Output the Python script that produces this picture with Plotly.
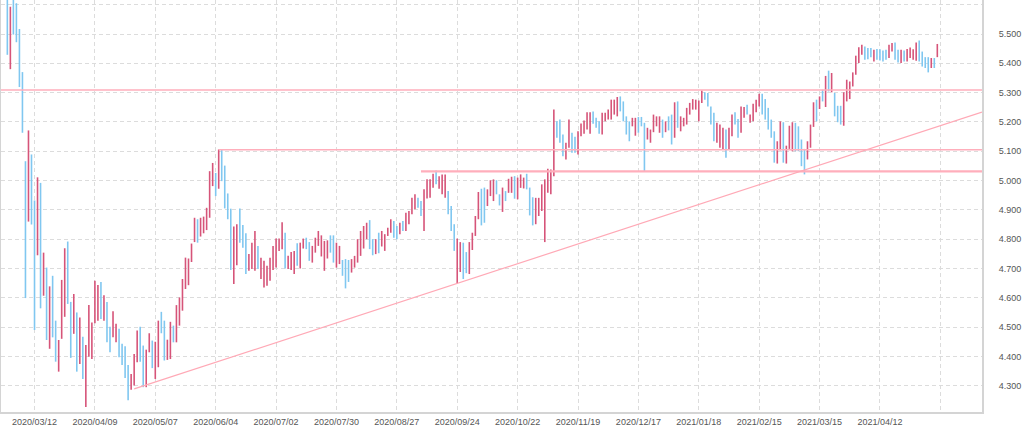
import pandas as pd
import plotly.graph_objects as go

# ---------------- data ----------------
start_date = "2020-02-28"
end_date = "2021-05-07"
closed_days = ["2020-12-25", "2021-01-01"]

highs = [
    5.66, 5.593, 5.64, 5.605, 5.517, 5.370, 5.066, 5.171, 5.089, 4.932,
    5.011, 4.992, 4.754, 4.703, 4.639, 4.675, 4.522, 4.456, 4.661, 4.769,
    4.792, 4.586, 4.613, 4.550, 4.533, 4.467, 4.439, 4.575, 4.516, 4.658,
    4.644, 4.654, 4.609, 4.586, 4.501, 4.554, 4.511, 4.494, 4.443, 4.435,
    4.371, 4.340, 4.408, 4.488, 4.501, 4.437, 4.423, 4.479, 4.454, 4.450,
    4.522, 4.552, 4.522, 4.457, 4.518, 4.505, 4.575, 4.601, 4.664, 4.737,
    4.734, 4.785, 4.873, 4.868, 4.873, 4.877, 4.907, 5.032, 5.060, 5.026,
    5.106, 5.106, 5.051, 4.956, 4.904, 4.843, 4.851, 4.905, 4.848, 4.820,
    4.749, 4.788, 4.828, 4.777, 4.737, 4.726, 4.709, 4.737, 4.777, 4.802,
    4.802, 4.858, 4.822, 4.743, 4.756, 4.760, 4.786, 4.788, 4.802, 4.805,
    4.790, 4.777, 4.805, 4.828, 4.813, 4.794, 4.796, 4.813, 4.813, 4.788,
    4.777, 4.729, 4.732, 4.729, 4.732, 4.743, 4.800, 4.828, 4.845, 4.856,
    4.865, 4.800, 4.800, 4.822, 4.828, 4.817, 4.839, 4.868, 4.862, 4.845,
    4.856, 4.862, 4.890, 4.896, 4.941, 4.953, 4.941, 4.930, 4.970, 5.004,
    5.004, 5.023, 5.034, 5.015, 5.021, 5.021, 4.964, 4.913, 4.851, 4.802,
    4.790, 4.788, 4.756, 4.790, 4.822, 4.879, 4.961, 4.972, 4.976, 4.970,
    5.001, 5.004, 5.001, 4.953, 4.976, 4.964, 5.006, 5.013, 5.015, 5.010,
    5.021, 5.010, 5.023, 4.976, 4.943, 4.941, 4.941, 4.987, 5.004, 5.040,
    5.038, 5.242, 5.202, 5.208, 5.157, 5.129, 5.208, 5.163, 5.149, 5.168,
    5.195, 5.205, 5.233, 5.233, 5.236, 5.214, 5.202, 5.231, 5.231, 5.242,
    5.276, 5.276, 5.285, 5.287, 5.270, 5.219, 5.202, 5.214, 5.214, 5.217,
    5.217, 5.197, 5.180, 5.174, 5.225, 5.219, 5.219, 5.208, 5.202, 5.219,
    5.225, 5.267, 5.270, 5.219, 5.214, 5.248, 5.265, 5.278, 5.276, 5.273,
    5.307, 5.301, 5.299, 5.253, 5.231, 5.197, 5.191, 5.180, 5.174, 5.180,
    5.225, 5.233, 5.210, 5.253, 5.251, 5.259, 5.225, 5.262, 5.276, 5.296,
    5.296, 5.278, 5.248, 5.208, 5.168, 5.134, 5.202, 5.199, 5.119, 5.187,
    5.199, 5.197, 5.185, 5.140, 5.108, 5.134, 5.191, 5.267, 5.276, 5.287,
    5.310, 5.357, 5.375, 5.367, 5.299, 5.255, 5.255, 5.301, 5.344, 5.338,
    5.369, 5.426, 5.455, 5.463, 5.457, 5.452, 5.452, 5.446, 5.449, 5.448,
    5.444, 5.446, 5.463, 5.469, 5.471, 5.446, 5.446, 5.444, 5.449, 5.454,
    5.448, 5.471, 5.478, 5.440, 5.421, 5.421, 5.418, 5.418, 5.466,
]

lows = [
    5.429, 5.380, 5.498, 5.472, 5.319, 5.163, 4.599, 4.860, 4.850, 4.490,
    4.745, 4.564, 4.607, 4.456, 4.426, 4.465, 4.382, 4.348, 4.460, 4.535,
    4.579, 4.395, 4.477, 4.348, 4.374, 4.323, 4.227, 4.399, 4.391, 4.513,
    4.522, 4.528, 4.522, 4.448, 4.414, 4.465, 4.448, 4.397, 4.371, 4.326,
    4.250, 4.286, 4.301, 4.380, 4.382, 4.295, 4.295, 4.414, 4.360, 4.323,
    4.363, 4.479, 4.386, 4.388, 4.391, 4.448, 4.448, 4.505, 4.556, 4.630,
    4.643, 4.722, 4.790, 4.788, 4.809, 4.820, 4.831, 4.873, 4.981, 4.947,
    4.972, 4.998, 4.905, 4.868, 4.695, 4.647, 4.711, 4.788, 4.771, 4.681,
    4.692, 4.698, 4.692, 4.698, 4.664, 4.635, 4.641, 4.658, 4.695, 4.703,
    4.760, 4.766, 4.700, 4.698, 4.695, 4.681, 4.709, 4.700, 4.768, 4.766,
    4.726, 4.720, 4.754, 4.777, 4.741, 4.692, 4.734, 4.754, 4.720, 4.703,
    4.715, 4.675, 4.632, 4.654, 4.686, 4.703, 4.720, 4.743, 4.768, 4.800,
    4.766, 4.745, 4.749, 4.752, 4.775, 4.760, 4.811, 4.822, 4.805, 4.800,
    4.817, 4.828, 4.828, 4.851, 4.885, 4.902, 4.907, 4.879, 4.828, 4.939,
    4.941, 4.975, 4.987, 4.972, 4.953, 4.941, 4.885, 4.828, 4.760, 4.650,
    4.688, 4.664, 4.684, 4.681, 4.763, 4.811, 4.868, 4.847, 4.856, 4.913,
    4.947, 4.930, 4.953, 4.915, 4.893, 4.930, 4.958, 4.958, 4.938, 4.936,
    4.975, 4.973, 4.970, 4.881, 4.847, 4.851, 4.879, 4.896, 4.790, 4.958,
    4.953, 5.015, 5.146, 5.129, 5.083, 5.072, 5.112, 5.095, 5.095, 5.089,
    5.151, 5.160, 5.174, 5.160, 5.194, 5.180, 5.160, 5.157, 5.202, 5.208,
    5.208, 5.225, 5.219, 5.236, 5.202, 5.157, 5.134, 5.185, 5.153, 5.163,
    5.185, 5.030, 5.140, 5.129, 5.165, 5.185, 5.163, 5.146, 5.165, 5.171,
    5.123, 5.146, 5.180, 5.168, 5.185, 5.191, 5.225, 5.242, 5.242, 5.202,
    5.265, 5.276, 5.253, 5.191, 5.134, 5.129, 5.112, 5.106, 5.078, 5.108,
    5.151, 5.191, 5.146, 5.163, 5.214, 5.225, 5.197, 5.202, 5.233, 5.253,
    5.225, 5.208, 5.174, 5.146, 5.061, 5.058, 5.103, 5.061, 5.058, 5.108,
    5.100, 5.100, 5.100, 5.049, 5.021, 5.072, 5.112, 5.183, 5.202, 5.244,
    5.270, 5.251, 5.304, 5.301, 5.219, 5.199, 5.191, 5.187, 5.270, 5.278,
    5.321, 5.361, 5.401, 5.429, 5.412, 5.414, 5.421, 5.406, 5.412, 5.410,
    5.406, 5.412, 5.418, 5.440, 5.412, 5.403, 5.401, 5.406, 5.406, 5.418,
    5.412, 5.409, 5.406, 5.389, 5.384, 5.369, 5.384, 5.384, 5.421,
]

# u = rising bar (red), d = falling bar (blue)
directions = (
    "dudddddudd" "udududduuu" "ddududuuuu" "ududduuddd" "duuudduudu"
    "udduuduuuu" "uuuduuuuud" "udddduuddd" "uuuduuuuuu" "uuduuuduud"
    "duuuuuuddu" "uddduuuuuu" "dduduuuudd" "uduuuudduu" "uuduuudddu"
    "udduuuuddu" "uudduduudu" "uuddduuuuu" "uuddduuddu" "uuuuddduuu"
    "uuudddduud" "dduuuuudud" "duduuuuuuu" "udddduuudu" "udduuduuuu"
    "ddddduuduu" "udddduuudu" "dududdduuu" "uuuudddudd" "dduudduduu"
    "uuddddudu"
)

# horizontal levels: (price, first bar index it starts at; None = full width)
levels = [5.309, 5.105, 5.031]
level_starts = [None, 70, 137]
level_widths = [1.5, 1.5, 2.2]

# trend line through two lows (bar index, price)
trend_points_x = [42, 149]
trend_points_y = [4.289, 4.649]

y_ticks = [4.3, 4.4, 4.5, 4.6, 4.7, 4.8, 4.9, 5.0, 5.1, 5.2, 5.3, 5.4, 5.5, 5.6]

# ---------------- build ----------------
dates = pd.bdate_range(start_date, end_date)
dates = dates[~dates.isin(pd.to_datetime(closed_days))]
date_labels = [d.strftime("%Y/%m/%d") for d in dates]
n = len(highs)
assert n == len(lows) == len(directions) == len(date_labels), (n, len(lows), len(directions), len(date_labels))

idx = list(range(n))
opens = [lo if d == "u" else hi for hi, lo, d in zip(highs, lows, directions)]
closes = [hi if d == "u" else lo for hi, lo, d in zip(highs, lows, directions)]

X_MIN, X_MAX = -2.1, 322.8
Y_MIN, Y_MAX = 4.2103, 5.616

RED = "#d65479"
BLUE = "#80c7f0"
LEVEL = "#ffaebb"

fig = go.Figure()

for lvl, st, w in zip(levels, level_starts, level_widths):
    x0 = X_MIN if st is None else st
    fig.add_trace(go.Scatter(x=[x0, X_MAX], y=[lvl, lvl], mode="lines",
                             line=dict(color=LEVEL, width=w),
                             hoverinfo="skip", showlegend=False))

slope = (trend_points_y[1] - trend_points_y[0]) / (trend_points_x[1] - trend_points_x[0])
fig.add_trace(go.Scatter(
    x=[trend_points_x[0], X_MAX],
    y=[trend_points_y[0], trend_points_y[0] + slope * (X_MAX - trend_points_x[0])],
    mode="lines", line=dict(color="#ffa9b6", width=1.2),
    hoverinfo="skip", showlegend=False))

fig.add_trace(go.Ohlc(
    x=idx, open=opens, high=highs, low=lows, close=closes,
    text=date_labels,
    increasing=dict(line=dict(color=RED, width=1.6)),
    decreasing=dict(line=dict(color=BLUE, width=1.6)),
    tickwidth=0, showlegend=False))

tickvals = list(range(9, 310, 20))
ticktext = [date_labels[i] if i < n else "" for i in tickvals]

GRID = "#dcdcdc"
AXIS = "#d4d4d4"
FONT = dict(family="Arial, Liberation Sans, sans-serif", size=9, color="#555555")

fig.update_layout(
    width=1024, height=430,
    margin=dict(l=1, r=42, t=0, b=18),
    paper_bgcolor="white", plot_bgcolor="white",
    font=FONT,
    xaxis=dict(
        range=[X_MIN, X_MAX], tickmode="array", tickvals=tickvals, ticktext=ticktext,
        showgrid=True, gridcolor=GRID, griddash="4px,3px", gridwidth=1,
        zeroline=False, showline=True, linecolor=AXIS, linewidth=2,
        ticks="", rangeslider=dict(visible=False), tickfont=FONT,
    ),
    yaxis=dict(
        range=[Y_MIN, Y_MAX], side="right", tickmode="array", tickvals=y_ticks,
        tickformat=".3f", showgrid=True, gridcolor=GRID, griddash="4px,3px",
        gridwidth=1, zeroline=False, showline=True, mirror=True,
        linecolor=AXIS, linewidth=2, ticks="", ticklabelstandoff=13, tickfont=FONT,
    ),
)

fig.write_html(
    "out.html",
    config={"displayModeBar": False},
    post_script="document.body.style.margin='0';document.body.style.overflow='hidden';",
)
